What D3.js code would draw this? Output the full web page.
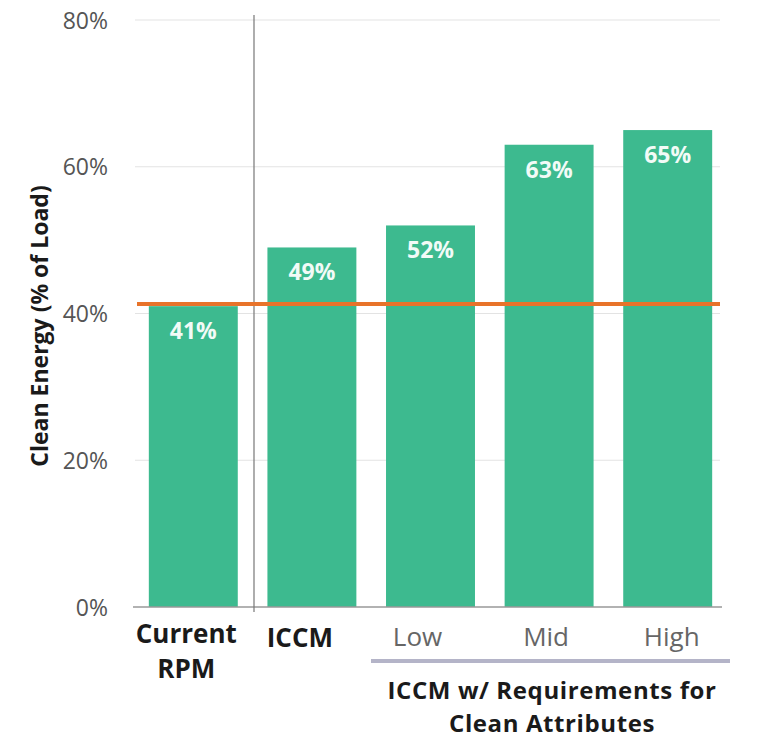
<!DOCTYPE html>
<html><head><meta charset="utf-8">
<script src="https://cdn.jsdelivr.net/npm/d3@7"></script>
<style>body{margin:0;background:#fff}svg{display:block}text{font-family:"Open Sans",sans-serif}</style>
</head><body>
<script>
const categories = ["Current RPM","ICCM","Low","Mid","High"];
const values = [41,49,52,63,65];
const yTicks = [0,20,40,60,80];
const referenceValue = 41.3;
const groupLabel = ["ICCM w/ Requirements for","Clean Attributes"];

const W=757,H=740;
const svg=d3.select("body").append("svg").attr("width",W).attr("height",H);
const y=d3.scaleLinear().domain([0,80]).range([607,20]);
const x=d3.scaleBand().domain(categories).range([134,727]).paddingInner(0.25).paddingOuter(0.125);

// gridlines
svg.append("g").selectAll("line").data(yTicks.filter(d=>d>0)).join("line")
  .attr("x1",135).attr("x2",720).attr("y1",d=>y(d)).attr("y2",d=>y(d))
  .attr("stroke","#e3e3e3").attr("stroke-width",1.2);

// y axis labels
const yAxis=d3.axisLeft(y).tickValues(yTicks).tickFormat(d=>d+"%").tickSize(0).tickPadding(0);
const ga=svg.append("g").attr("transform","translate(108,0)").call(yAxis);
ga.select(".domain").remove();
ga.selectAll("text").attr("font-size",23).attr("fill","#555").attr("font-family","Open Sans").attr("dy","0.35em");

// bars
svg.append("g").selectAll("rect").data(values).join("rect")
  .attr("x",(d,i)=>x(categories[i])).attr("width",x.bandwidth())
  .attr("y",d=>y(d)).attr("height",d=>y(0)-y(d)).attr("fill","#3dba8f");

// baseline
svg.append("line").attr("x1",133).attr("x2",722).attr("y1",y(0)).attr("y2",y(0)).attr("stroke","#999").attr("stroke-width",1.5);

// separator
svg.append("line").attr("x1",254).attr("x2",254).attr("y1",15).attr("y2",612).attr("stroke","#777").attr("stroke-width",1.2);

// reference line
svg.append("line").attr("x1",137).attr("x2",720).attr("y1",y(referenceValue)).attr("y2",y(referenceValue))
  .attr("stroke","#e8732a").attr("stroke-width",4);

// value labels
svg.append("g").selectAll("text").data(values).join("text")
  .attr("x",(d,i)=>x(categories[i])+x.bandwidth()/2).attr("y",d=>y(d)+33)
  .attr("text-anchor","middle").attr("font-size",23).attr("font-weight","bold").attr("fill","#f2fbf7")
  .text(d=>d+"%");

// category labels
const cx=c=>x(c)+x.bandwidth()/2;
const lab=svg.append("g");
const fs=26;
lab.append("text").attr("x",cx("Current RPM")-7).attr("y",643).attr("text-anchor","middle").attr("font-size",fs).attr("font-weight","bold").attr("fill","#1a1a1a").text("Current");
lab.append("text").attr("x",cx("Current RPM")-7).attr("y",678).attr("text-anchor","middle").attr("font-size",fs).attr("font-weight","bold").attr("fill","#1a1a1a").text("RPM");
lab.append("text").attr("x",cx("ICCM")-12).attr("y",647).attr("text-anchor","middle").attr("font-size",fs).attr("font-weight","bold").attr("fill","#1a1a1a").text("ICCM");
const offs={Low:-13,Mid:-3,High:4};
["Low","Mid","High"].forEach(c=>{
  lab.append("text").attr("x",cx(c)+offs[c]).attr("y",646).attr("text-anchor","middle").attr("font-size",fs).attr("fill","#666").text(c);
});
svg.append("line").attr("x1",371).attr("x2",730).attr("y1",661).attr("y2",661).attr("stroke","#b4b4c8").attr("stroke-width",4);
groupLabel.forEach((t,i)=>{
  lab.append("text").attr("x",552).attr("y",699+i*33).attr("text-anchor","middle").attr("font-size",24).attr("letter-spacing",0.6).attr("font-weight","bold").attr("fill","#1a1a1a").text(t);
});

// y title
svg.append("text").attr("transform","translate(48,326) rotate(-90)").attr("text-anchor","middle")
  .attr("font-size",23).attr("font-weight","bold").attr("fill","#1a1a1a").text("Clean Energy (% of Load)");
</script>
</body></html>
